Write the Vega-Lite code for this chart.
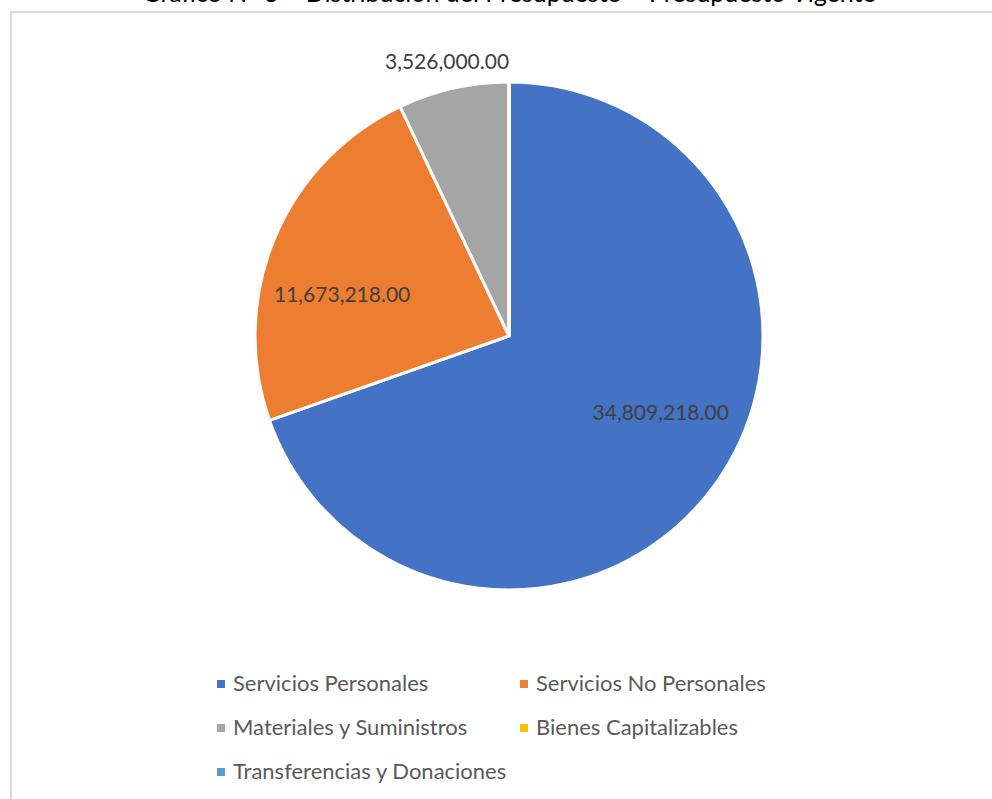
{
  "$schema": "https://vega.github.io/schema/vega-lite/v6.json",
  "width": 996,
  "height": 800,
  "autosize": {"type": "none"},
  "padding": {"left": 11, "top": 12, "right": 0, "bottom": 0},
  "background": "white",
  "view": {"stroke": "#d9d9d9", "strokeWidth": 2, "fill": "white"},
  "title": {
    "text": "Gráfico N° 3 – Distribución del Presupuesto – Presupuesto Vigente",
    "font": "Lato",
    "fontSize": 25,
    "fontWeight": "normal",
    "color": "#000000",
    "anchor": "middle",
    "offset": 5
  },
  "config": {
    "view": {"stroke": "#d9d9d9", "strokeWidth": 2},
    "legend": {
      "labelFont": "Lato",
      "labelFontSize": 22,
      "labelColor": "#595959",
      "symbolType": "square",
      "symbolSize": 64,
      "symbolStrokeWidth": 0,
      "labelOffset": 1,
      "rowPadding": 22,
      "columnPadding": 5,
      "labelLimit": 400
    }
  },
  "data": {
    "values": [
      {"partida": "Servicios Personales", "valor": 34809218},
      {"partida": "Servicios No Personales", "valor": 11673218},
      {"partida": "Materiales y Suministros", "valor": 3526000},
      {"partida": "Bienes Capitalizables", "valor": 0},
      {"partida": "Transferencias y Donaciones", "valor": 0}
    ]
  },
  "encoding": {
    "theta": {"field": "valor", "type": "quantitative", "stack": true},
    "order": {"field": "valor", "type": "quantitative", "sort": "descending"}
  },
  "layer": [
    {
      "mark": {"type": "arc", "outerRadius": 254, "stroke": "white", "strokeWidth": 3, "yOffset": -76},
      "encoding": {
        "color": {
          "field": "partida",
          "type": "nominal",
          "scale": {
            "domain": ["Servicios Personales", "Servicios No Personales", "Materiales y Suministros", "Bienes Capitalizables", "Transferencias y Donaciones"],
            "range": ["#4472C4", "#ED7D31", "#A5A5A5", "#FFC000", "#5B9BD5"]
          },
          "legend": {
            "title": null,
            "orient": "none",
            "columns": 2,
            "legendX": 199,
            "legendY": 661,
            "direction": "horizontal"
          }
        }
      }
    },
    {
      "mark": {"type": "text", "radius": 165, "dx": 17, "dy": -93, "font": "Lato", "fontSize": 21, "color": "#404040"},
      "encoding": {
        "text": {"condition": {"test": "datum.partida === 'Servicios Personales'", "field": "valor", "type": "quantitative", "format": ",.2f"}, "value": ""}
      }
    },
    {
      "mark": {"type": "text", "radius": 171, "dx": -9, "dy": -50, "font": "Lato", "fontSize": 21, "color": "#404040"},
      "encoding": {
        "text": {"condition": {"test": "datum.partida === 'Servicios No Personales'", "field": "valor", "type": "quantitative", "format": ",.2f"}, "value": ""}
      }
    },
    {
      "mark": {"type": "text", "radius": 282, "dx": 0, "dy": -74, "font": "Lato", "fontSize": 21, "color": "#404040"},
      "encoding": {
        "text": {"condition": {"test": "datum.partida === 'Materiales y Suministros'", "field": "valor", "type": "quantitative", "format": ",.2f"}, "value": ""}
      }
    }
  ]
}
